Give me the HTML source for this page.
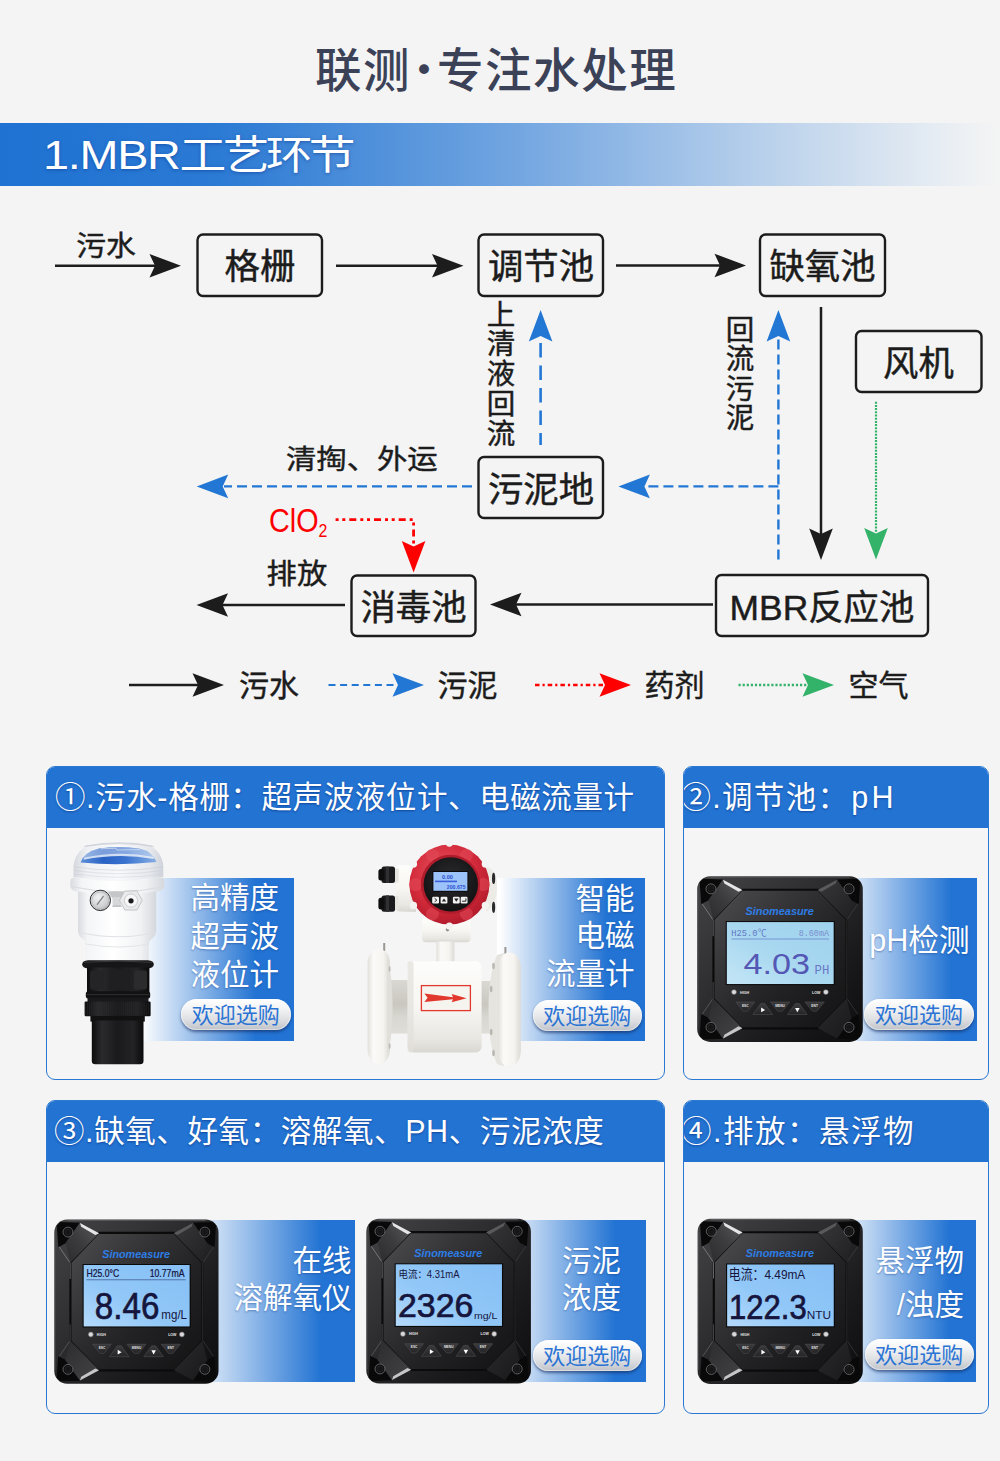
<!DOCTYPE html>
<html lang="zh-CN"><head><meta charset="utf-8"><title>联测·专注水处理</title>
<style>
html,body{margin:0;padding:0;background:#f4f4f4;}
body{width:1000px;height:1461px;position:relative;overflow:hidden;font-family:"Liberation Sans","Noto Sans CJK SC",sans-serif;}
.abs{position:absolute;white-space:nowrap;}
#title{left:315px;top:32px;height:70px;line-height:70px;font-size:46.5px;font-weight:500;color:#3b4157;letter-spacing:1.6px;}
#title i{font-style:normal;font-weight:400;font-family:'Noto Sans CJK SC',sans-serif;margin:0 -10.4px;letter-spacing:0;}
#banner{left:0;top:123px;width:1000px;height:63px;background:linear-gradient(90deg,#1f72d2 0%,#2b7ad4 22%,#6ea3e0 50%,#bdd3ec 78%,#eef1f4 97%,#f4f4f4 100%);}
#banner span{position:absolute;left:43px;top:0;line-height:64px;font-size:40px;color:#fff;letter-spacing:-3.2px;transform:scaleX(1.17);transform-origin:0 50%;text-shadow:0 1px 3px rgba(10,50,140,.55);}
#banner b{font-weight:400;letter-spacing:-1.1px;}
.card{position:absolute;box-sizing:border-box;border:1.5px solid #2b78d3;border-radius:9px;background:#f5f5f5;overflow:hidden;}
.card .hd{position:absolute;left:-2px;right:-2px;top:-2px;height:63px;background:#2273d2;}
.card .hd span{position:absolute;top:0;line-height:64px;color:#fff;font-size:30.5px;letter-spacing:0.6px;white-space:nowrap;text-shadow:0 1px 2px rgba(10,40,120,.6);}
.card .hd em{font-style:normal;margin-left:2px;letter-spacing:3.2px;}
.panel{position:absolute;}
.ptxt{position:absolute;color:#fff;font-size:29.5px;line-height:38px;text-align:right;white-space:nowrap;text-shadow:0 1px 2px rgba(20,60,140,.45);}
.btn{position:absolute;height:31px;width:109px;border-radius:16px;background:linear-gradient(180deg,#ffffff 0%,#f4f4f5 30%,#dcdee1 68%,#bfc2c8 100%);box-shadow:0 2px 3px rgba(20,40,90,.6),inset 0 0 0 1px rgba(255,255,255,.45);color:#2b74d4;font-size:22px;line-height:33px;text-align:center;white-space:nowrap;}
svg{position:absolute;left:0;top:0;overflow:visible;}
svg text{font-family:"Liberation Sans","Noto Sans CJK SC",sans-serif;}
</style></head><body>
<div id="title" class="abs">联测<i>·</i>专注水处理</div>
<div id="banner" class="abs"><span><b>1.MBR</b>工艺环节</span></div>
<svg width="1000" height="760" viewBox="0 0 1000 760">
<path d="M55.0 265.8 L158.0 265.8" fill="none" stroke="#1c1c1c" stroke-width="2.5"/>
<polygon points="181.0,265.8 149.5,254.0 155.0,265.8 149.5,277.6" fill="#1c1c1c"/>
<path d="M336.0 265.8 L441.0 265.8" fill="none" stroke="#1c1c1c" stroke-width="2.5"/>
<polygon points="463.5,265.8 432.0,254.0 437.5,265.8 432.0,277.6" fill="#1c1c1c"/>
<path d="M616.0 265.5 L724.0 265.5" fill="none" stroke="#1c1c1c" stroke-width="2.5"/>
<polygon points="746.0,265.5 714.5,253.7 720.0,265.5 714.5,277.3" fill="#1c1c1c"/>
<path d="M821.0 307.0 L821.0 535.0" fill="none" stroke="#1c1c1c" stroke-width="2.5"/>
<polygon points="821.0,560.0 809.2,528.5 821.0,534.0 832.8,528.5" fill="#1c1c1c"/>
<path d="M713.0 604.5 L515.0 604.5" fill="none" stroke="#1c1c1c" stroke-width="2.5"/>
<polygon points="490.0,604.5 521.5,592.7 516.0,604.5 521.5,616.3" fill="#1c1c1c"/>
<path d="M345.0 605.0 L221.0 605.0" fill="none" stroke="#1c1c1c" stroke-width="2.5"/>
<polygon points="196.5,605.0 228.0,593.2 222.5,605.0 228.0,616.8" fill="#1c1c1c"/>
<path d="M129.0 685.0 L199.0 685.0" fill="none" stroke="#1c1c1c" stroke-width="2.5"/>
<polygon points="224.0,685.0 192.5,673.2 198.0,685.0 192.5,696.8" fill="#1c1c1c"/>
<path d="M540.6 445.0 L540.6 338.0" fill="none" stroke="#2277d4" stroke-width="2.6" stroke-dasharray="14.5 8" stroke-dashoffset="2.5"/>
<polygon points="540.6,310.0 528.8,341.5 540.6,336.0 552.4,341.5" fill="#2277d4"/>
<path d="M778.4 559.5 L778.4 338.0" fill="none" stroke="#2277d4" stroke-width="2.4" stroke-dasharray="10 5"/>
<polygon points="778.4,310.0 766.6,341.5 778.4,336.0 790.2,341.5" fill="#2277d4"/>
<path d="M778.4 486.4 L645.0 486.4" fill="none" stroke="#2277d4" stroke-width="2.4" stroke-dasharray="10 5"/>
<polygon points="618.4,486.4 649.9,474.6 644.4,486.4 649.9,498.2" fill="#2277d4"/>
<path d="M472.0 486.4 L224.0 486.4" fill="none" stroke="#2277d4" stroke-width="2.4" stroke-dasharray="10 5"/>
<polygon points="196.7,486.4 228.2,474.6 222.7,486.4 228.2,498.2" fill="#2277d4"/>
<path d="M328.5 685.0 L399.0 685.0" fill="none" stroke="#2277d4" stroke-width="2.2" stroke-dasharray="7 4.6"/>
<polygon points="424.0,685.0 392.5,673.2 398.0,685.0 392.5,696.8" fill="#2277d4"/>
<path d="M335.6 519.6 L413.6 519.6 L413.6 546.0" fill="none" stroke="#fe0000" stroke-width="2.8" stroke-dasharray="3 3.7 3 4 7 4"/>
<polygon points="413.6,572.5 401.8,541.0 413.6,546.5 425.4,541.0" fill="#fe0000"/>
<path d="M535.0 685.0 L606.0 685.0" fill="none" stroke="#fe0000" stroke-width="2.4" stroke-dasharray="4.5 3 2.2 3"/>
<polygon points="631.0,685.0 599.5,673.2 605.0,685.0 599.5,696.8" fill="#fe0000"/>
<path d="M876.0 401.7 L876.0 532.0" fill="none" stroke="#33b26a" stroke-width="2.2" stroke-dasharray="2 1.2"/>
<polygon points="876.0,559.5 864.2,528.0 876.0,533.5 887.8,528.0" fill="#33b26a"/>
<path d="M738.5 685.0 L809.0 685.0" fill="none" stroke="#33b26a" stroke-width="2.6" stroke-dasharray="2.2 1.9"/>
<polygon points="834.0,685.0 802.5,673.2 808.0,685.0 802.5,696.8" fill="#33b26a"/>
<rect x="197.5" y="234.5" width="124.5" height="61.5" rx="5.5" ry="5.5" fill="none" stroke="#1c1c1c" stroke-width="2.4"/>
<rect x="478.5" y="234.5" width="124.5" height="61.5" rx="5.5" ry="5.5" fill="none" stroke="#1c1c1c" stroke-width="2.4"/>
<rect x="760.0" y="234.5" width="125.0" height="61.5" rx="5.5" ry="5.5" fill="none" stroke="#1c1c1c" stroke-width="2.4"/>
<rect x="856.0" y="331.0" width="125.5" height="61.0" rx="5.5" ry="5.5" fill="none" stroke="#1c1c1c" stroke-width="2.4"/>
<rect x="478.5" y="457.0" width="124.5" height="61.0" rx="5.5" ry="5.5" fill="none" stroke="#1c1c1c" stroke-width="2.4"/>
<rect x="351.5" y="575.5" width="124.0" height="60.5" rx="5.5" ry="5.5" fill="none" stroke="#1c1c1c" stroke-width="2.4"/>
<rect x="716.0" y="575.0" width="212.0" height="61.0" rx="5.5" ry="5.5" fill="none" stroke="#1c1c1c" stroke-width="2.4"/>
<text x="260.0" y="279.4" font-size="35.4" fill="#1c1c1c" stroke="#1c1c1c" stroke-width=".45" text-anchor="middle" >格栅</text>
<text x="541.0" y="279.4" font-size="35.4" fill="#1c1c1c" stroke="#1c1c1c" stroke-width=".45" text-anchor="middle" >调节池</text>
<text x="822.5" y="279.4" font-size="35.4" fill="#1c1c1c" stroke="#1c1c1c" stroke-width=".45" text-anchor="middle" >缺氧池</text>
<text x="918.5" y="375.7" font-size="35.4" fill="#1c1c1c" stroke="#1c1c1c" stroke-width=".45" text-anchor="middle" >风机</text>
<text x="541.0" y="501.7" font-size="35.4" fill="#1c1c1c" stroke="#1c1c1c" stroke-width=".45" text-anchor="middle" >污泥地</text>
<text x="413.5" y="620.2" font-size="35.4" fill="#1c1c1c" stroke="#1c1c1c" stroke-width=".45" text-anchor="middle" >消毒池</text>
<text x="822.0" y="619.7" font-size="35.4" fill="#1c1c1c" stroke="#1c1c1c" stroke-width=".45" text-anchor="middle" >MBR反应池</text>
<text transform="translate(106.0 255.5) scale(1.045 1)" font-size="28.5" fill="#1c1c1c" stroke="#1c1c1c" stroke-width=".45" text-anchor="middle" >污水</text>
<text transform="translate(361.8 468.6) scale(1.1 1)" font-size="27.6" fill="#1c1c1c" stroke="#1c1c1c" stroke-width=".45" text-anchor="middle" >清掏、外运</text>
<text transform="translate(296.9 584.4) scale(1.045 1)" font-size="29" fill="#1c1c1c" stroke="#1c1c1c" stroke-width=".45" text-anchor="middle" >排放</text>
<text transform="translate(269 531.6) scale(.885 1)" font-size="32.5" fill="#fe0000">ClO<tspan font-size="18" dy="5">2</tspan></text>
<text x="501.0" y="324.5" font-size="28.5" fill="#1c1c1c" stroke="#1c1c1c" stroke-width=".45" text-anchor="middle" >上</text>
<text x="501.0" y="354.3" font-size="28.5" fill="#1c1c1c" stroke="#1c1c1c" stroke-width=".45" text-anchor="middle" >清</text>
<text x="501.0" y="384.1" font-size="28.5" fill="#1c1c1c" stroke="#1c1c1c" stroke-width=".45" text-anchor="middle" >液</text>
<text x="501.0" y="413.9" font-size="28.5" fill="#1c1c1c" stroke="#1c1c1c" stroke-width=".45" text-anchor="middle" >回</text>
<text x="501.0" y="443.7" font-size="28.5" fill="#1c1c1c" stroke="#1c1c1c" stroke-width=".45" text-anchor="middle" >流</text>
<text x="740.0" y="340.0" font-size="28.5" fill="#1c1c1c" stroke="#1c1c1c" stroke-width=".45" text-anchor="middle" >回</text>
<text x="740.0" y="369.3" font-size="28.5" fill="#1c1c1c" stroke="#1c1c1c" stroke-width=".45" text-anchor="middle" >流</text>
<text x="740.0" y="398.6" font-size="28.5" fill="#1c1c1c" stroke="#1c1c1c" stroke-width=".45" text-anchor="middle" >污</text>
<text x="740.0" y="427.9" font-size="28.5" fill="#1c1c1c" stroke="#1c1c1c" stroke-width=".45" text-anchor="middle" >泥</text>
<text x="269.0" y="696.0" font-size="30" fill="#1c1c1c" stroke="#1c1c1c" stroke-width=".45" text-anchor="middle" >污水</text>
<text x="467.5" y="696.0" font-size="30" fill="#1c1c1c" stroke="#1c1c1c" stroke-width=".45" text-anchor="middle" >污泥</text>
<text x="674.5" y="696.0" font-size="30" fill="#1c1c1c" stroke="#1c1c1c" stroke-width=".45" text-anchor="middle" >药剂</text>
<text x="878.5" y="696.0" font-size="30" fill="#1c1c1c" stroke="#1c1c1c" stroke-width=".45" text-anchor="middle" >空气</text>
</svg>
<div class="card" style="left:46px;top:766px;width:619px;height:314px;"><div class="hd"><span style="left:10px;letter-spacing:0.6px">①.污水-格栅：超声波液位计、电磁流量计</span></div></div>
<div class="card" style="left:683px;top:766px;width:306px;height:314px;"><div class="hd"><span style="left:-1.5px;letter-spacing:1.3px">②.调节池：<em>pH</em></span></div></div>
<div class="card" style="left:46px;top:1100px;width:619px;height:314px;"><div class="hd"><span style="left:9px;letter-spacing:0.6px">③.缺氧、好氧：溶解氧、PH、污泥浓度</span></div></div>
<div class="card" style="left:683px;top:1100px;width:306px;height:314px;"><div class="hd"><span style="left:-1px;letter-spacing:1.5px">④.排放：悬浮物</span></div></div>
<div class="panel" style="left:138.0px;top:878.0px;width:156.3px;height:162.6px;background:linear-gradient(90deg,#ffffff 1.9%,#2273d3 75.5%);"></div>
<div class="panel" style="left:497.0px;top:878.0px;width:148.0px;height:162.6px;background:linear-gradient(90deg,#ffffff 1.4%,#2273d3 74.3%);"></div>
<div class="panel" style="left:800.0px;top:878.0px;width:177.3px;height:162.6px;background:linear-gradient(90deg,#ffffff 18.0%,#2273d3 85.7%);"></div>
<div class="panel" style="left:150.0px;top:1219.8px;width:205.0px;height:162.7px;background:linear-gradient(90deg,#ffffff 16.1%,#2273d3 83.4%);"></div>
<div class="panel" style="left:480.0px;top:1219.8px;width:165.7px;height:162.7px;background:linear-gradient(90deg,#ffffff 10.3%,#2273d3 81.5%);"></div>
<div class="panel" style="left:800.0px;top:1219.8px;width:176.2px;height:162.7px;background:linear-gradient(90deg,#ffffff 18.2%,#2273d3 85.1%);"></div>
<svg width="1000" height="1461" viewBox="0 0 1000 1461">
<defs>
<linearGradient id="gOut" x1="0" y1="0" x2="1" y2="1"><stop offset="0" stop-color="#444446"/><stop offset=".35" stop-color="#303032"/><stop offset=".7" stop-color="#1a1a1c"/><stop offset="1" stop-color="#0d0d0e"/></linearGradient>
<linearGradient id="gFace" x1="0" y1="0" x2="1" y2="1"><stop offset="0" stop-color="#4e4e50"/><stop offset=".3" stop-color="#363638"/><stop offset=".6" stop-color="#222224"/><stop offset="1" stop-color="#131314"/></linearGradient>
<linearGradient id="gEarA" x1="1" y1="0" x2="0" y2="1"><stop offset="0" stop-color="#5a5a5d"/><stop offset=".5" stop-color="#3c3c3f"/><stop offset="1" stop-color="#2c2c2e"/></linearGradient>
<linearGradient id="gEarB" x1="0" y1="0" x2="1" y2="1"><stop offset="0" stop-color="#38383b"/><stop offset="1" stop-color="#202022"/></linearGradient>
<linearGradient id="gEarC" x1="0" y1="0" x2="1" y2="1"><stop offset="0" stop-color="#2c2c2e"/><stop offset="1" stop-color="#444447"/></linearGradient>
<linearGradient id="gEarD" x1="0" y1="0" x2="1" y2="1"><stop offset="0" stop-color="#2a2a2c"/><stop offset="1" stop-color="#19191b"/></linearGradient>
<linearGradient id="gLcdA" x1="0" y1="1" x2="1" y2="0"><stop offset="0" stop-color="#c4e6f6"/><stop offset=".45" stop-color="#a9d8f0"/><stop offset="1" stop-color="#9fd2ee"/></linearGradient>
<linearGradient id="gLcdB" x1="0" y1="1" x2="1" y2="0"><stop offset="0" stop-color="#b4dafb"/><stop offset=".4" stop-color="#92c8f8"/><stop offset="1" stop-color="#86bff5"/></linearGradient>
<linearGradient id="gBtn" x1="0" y1="0" x2="0" y2="1"><stop offset="0" stop-color="#3a3a3d"/><stop offset="1" stop-color="#252527"/></linearGradient>
</defs>
<g transform="translate(697.20 876.30) scale(0.9976)">
<rect x="0" y="0" width="166" height="166" rx="13" ry="13" fill="url(#gOut)"/>
<path d="M13 .8 L153 .8" stroke="#6a6a6d" stroke-width=".9" opacity=".7"/>
<path d="M.8 14 L.8 152" stroke="#5a5a5d" stroke-width=".9" opacity=".6"/>
<polygon points="15.2,42.8 44.4,12.4 121.6,12.4 150.8,42.8 150.8,123.2 121.6,153.6 44.4,153.6 15.2,123.2" fill="#0b0b0c"/>
<polygon points="17.4,43.6 45.1,14.6 120.9,14.6 148.6,43.6 148.6,122.4 120.9,151.4 45.1,151.4 17.4,122.4" fill="url(#gFace)"/>
<polygon points="2.5,6.0 6.0,2.5 26.0,3.2 11.5,24.0 4.0,28.0" fill="#09090a"/>
<polygon points="163.5,6.0 160.0,2.5 140.0,3.2 154.5,24.0 162.0,28.0" fill="#09090a"/>
<polygon points="2.5,160.0 6.0,163.5 26.0,162.8 11.5,142.0 4.0,138.0" fill="#09090a"/>
<polygon points="163.5,160.0 160.0,163.5 140.0,162.8 154.5,142.0 162.0,138.0" fill="#09090a"/>
<polygon points="25.7,3.5 45.1,13.9 16.3,43.6 11.3,23.8" fill="url(#gEarA)"/>
<polygon points="140.3,3.5 120.9,13.9 149.7,43.6 154.7,23.8" fill="url(#gEarB)"/>
<polygon points="25.7,162.5 45.1,152.1 16.3,122.4 11.3,142.2" fill="url(#gEarC)"/>
<polygon points="140.3,162.5 120.9,152.1 149.7,122.4 154.7,142.2" fill="url(#gEarD)"/>
<polygon points="25.9,3.4 45.3,13.7 41.5,15.6 27.2,7.2" fill="#f2f2f3" opacity=".92"/>
<polygon points="25.9,162.6 45.3,152.3 41.5,150.4 27.2,158.8" fill="#dededf" opacity=".85"/>
<polygon points="140.1,3.4 120.7,13.7 124.5,15.6 138.8,7.2" fill="#8a8a8d" opacity=".45"/>
<path d="M5 27.6 L16 43.8 L16 60" fill="none" stroke="#8e8e91" stroke-width="1" opacity=".7"/>
<path d="M5 138.4 L16 122.2 L16 106" fill="none" stroke="#6e6e71" stroke-width="1" opacity=".6"/>
<path d="M161 27.6 L150 43.8 L150 122.2 L161 138.4" fill="none" stroke="#4a4a4d" stroke-width=".9" opacity=".6"/>
<circle cx="13.8" cy="12.6" r="5" fill="#0d0d0e" stroke="#6a6a6d" stroke-width=".9"/>
<circle cx="13.8" cy="12.6" r="3" fill="#151516" stroke="#2e2e31" stroke-width=".6"/>
<circle cx="152.2" cy="12.6" r="5" fill="#0d0d0e" stroke="#6a6a6d" stroke-width=".9"/>
<circle cx="152.2" cy="12.6" r="3" fill="#151516" stroke="#2e2e31" stroke-width=".6"/>
<circle cx="13.8" cy="151.4" r="5" fill="#0d0d0e" stroke="#6a6a6d" stroke-width=".9"/>
<circle cx="13.8" cy="151.4" r="3" fill="#151516" stroke="#2e2e31" stroke-width=".6"/>
<circle cx="152.2" cy="151.4" r="5" fill="#0d0d0e" stroke="#6a6a6d" stroke-width=".9"/>
<circle cx="152.2" cy="151.4" r="3" fill="#151516" stroke="#2e2e31" stroke-width=".6"/>
<text x="48.4" y="38.7" font-size="11" font-weight="700" font-style="italic" fill="#2d7de6" textLength="68.6" lengthAdjust="spacingAndGlyphs">Sinomeasure</text>
<rect x="28.6" y="44.9" width="109.4" height="64.2" fill="#0a0a0b"/>
<rect x="29.7" y="45.9" width="107.1" height="62.1" fill="url(#gLcdA)"/>
<text x="34.2" y="60.2" font-size="9.6" fill="#5f78c4" style="font-family:Liberation Mono,monospace" textLength="35.5" lengthAdjust="spacingAndGlyphs">H25.0℃</text>
<text x="101.8" y="60.2" font-size="9.6" fill="#7a8fce" style="font-family:Liberation Mono,monospace" textLength="30.3" lengthAdjust="spacingAndGlyphs">8.60mA</text>
<rect x="34.2" y="62.4" width="98" height=".9" fill="#6f8fd0"/>
<text x="46.4" y="98.2" font-size="29.8" fill="#5457b4" textLength="66.6" lengthAdjust="spacingAndGlyphs">4.03</text>
<text x="117.6" y="97.6" font-size="13.5" fill="#6a78c6" style="font-family:Liberation Mono,monospace" textLength="14.8" lengthAdjust="spacingAndGlyphs">PH</text>
<circle cx="36.9" cy="116.1" r="2.5" fill="#d9d9db" stroke="#6a6a6e" stroke-width=".6"/>
<circle cx="129" cy="116.1" r="2.5" fill="#d9d9db" stroke="#6a6a6e" stroke-width=".6"/>
<text x="43" y="117.6" font-size="3.6" font-weight="700" fill="#e6e6e6">HIGH</text>
<text x="123.5" y="117.6" font-size="3.6" font-weight="700" fill="#e6e6e6" text-anchor="end">LOW</text>
<polygon points="38.7,126 57.6,126 50.4,135.2 46.0,135.2" fill="url(#gBtn)" stroke="#4a4a4e" stroke-width=".7" stroke-linejoin="round"/>
<text x="48.2" y="130.6" font-size="3.3" font-weight="700" fill="#e0e0e0" text-anchor="middle">ESC</text>
<polygon points="73.4,126 92.7,126 85.3,135.2 80.9,135.2" fill="url(#gBtn)" stroke="#4a4a4e" stroke-width=".7" stroke-linejoin="round"/>
<text x="83.1" y="130.6" font-size="3.3" font-weight="700" fill="#e0e0e0" text-anchor="middle">MENU</text>
<polygon points="108.0,126 127.4,126 119.9,135.2 115.5,135.2" fill="url(#gBtn)" stroke="#4a4a4e" stroke-width=".7" stroke-linejoin="round"/>
<text x="117.7" y="130.6" font-size="3.3" font-weight="700" fill="#e0e0e0" text-anchor="middle">ENT</text>
<polygon points="63.7,127.6 67.7,127.6 75.5,138.6 55.9,138.6" fill="url(#gBtn)" stroke="#4a4a4e" stroke-width=".7" stroke-linejoin="round"/>
<polygon points="64.1,131.6 68.0,134 64.1,136.4" fill="#fff"/>
<polygon points="98.4,127.6 102.4,127.6 110.2,138.6 90.6,138.6" fill="url(#gBtn)" stroke="#4a4a4e" stroke-width=".7" stroke-linejoin="round"/>
<polygon points="98.1,132 102.7,132 100.4,136.3" fill="#fff"/>
</g>
<g transform="translate(54.30 1219.60) scale(0.9892)">
<rect x="0" y="0" width="166" height="166" rx="13" ry="13" fill="url(#gOut)"/>
<path d="M13 .8 L153 .8" stroke="#6a6a6d" stroke-width=".9" opacity=".7"/>
<path d="M.8 14 L.8 152" stroke="#5a5a5d" stroke-width=".9" opacity=".6"/>
<polygon points="15.2,42.8 44.4,12.4 121.6,12.4 150.8,42.8 150.8,123.2 121.6,153.6 44.4,153.6 15.2,123.2" fill="#0b0b0c"/>
<polygon points="17.4,43.6 45.1,14.6 120.9,14.6 148.6,43.6 148.6,122.4 120.9,151.4 45.1,151.4 17.4,122.4" fill="url(#gFace)"/>
<polygon points="2.5,6.0 6.0,2.5 26.0,3.2 11.5,24.0 4.0,28.0" fill="#09090a"/>
<polygon points="163.5,6.0 160.0,2.5 140.0,3.2 154.5,24.0 162.0,28.0" fill="#09090a"/>
<polygon points="2.5,160.0 6.0,163.5 26.0,162.8 11.5,142.0 4.0,138.0" fill="#09090a"/>
<polygon points="163.5,160.0 160.0,163.5 140.0,162.8 154.5,142.0 162.0,138.0" fill="#09090a"/>
<polygon points="25.7,3.5 45.1,13.9 16.3,43.6 11.3,23.8" fill="url(#gEarA)"/>
<polygon points="140.3,3.5 120.9,13.9 149.7,43.6 154.7,23.8" fill="url(#gEarB)"/>
<polygon points="25.7,162.5 45.1,152.1 16.3,122.4 11.3,142.2" fill="url(#gEarC)"/>
<polygon points="140.3,162.5 120.9,152.1 149.7,122.4 154.7,142.2" fill="url(#gEarD)"/>
<polygon points="25.9,3.4 45.3,13.7 41.5,15.6 27.2,7.2" fill="#f2f2f3" opacity=".92"/>
<polygon points="25.9,162.6 45.3,152.3 41.5,150.4 27.2,158.8" fill="#dededf" opacity=".85"/>
<polygon points="140.1,3.4 120.7,13.7 124.5,15.6 138.8,7.2" fill="#8a8a8d" opacity=".45"/>
<path d="M5 27.6 L16 43.8 L16 60" fill="none" stroke="#8e8e91" stroke-width="1" opacity=".7"/>
<path d="M5 138.4 L16 122.2 L16 106" fill="none" stroke="#6e6e71" stroke-width="1" opacity=".6"/>
<path d="M161 27.6 L150 43.8 L150 122.2 L161 138.4" fill="none" stroke="#4a4a4d" stroke-width=".9" opacity=".6"/>
<circle cx="13.8" cy="12.6" r="5" fill="#0d0d0e" stroke="#6a6a6d" stroke-width=".9"/>
<circle cx="13.8" cy="12.6" r="3" fill="#151516" stroke="#2e2e31" stroke-width=".6"/>
<circle cx="152.2" cy="12.6" r="5" fill="#0d0d0e" stroke="#6a6a6d" stroke-width=".9"/>
<circle cx="152.2" cy="12.6" r="3" fill="#151516" stroke="#2e2e31" stroke-width=".6"/>
<circle cx="13.8" cy="151.4" r="5" fill="#0d0d0e" stroke="#6a6a6d" stroke-width=".9"/>
<circle cx="13.8" cy="151.4" r="3" fill="#151516" stroke="#2e2e31" stroke-width=".6"/>
<circle cx="152.2" cy="151.4" r="5" fill="#0d0d0e" stroke="#6a6a6d" stroke-width=".9"/>
<circle cx="152.2" cy="151.4" r="3" fill="#151516" stroke="#2e2e31" stroke-width=".6"/>
<text x="48.4" y="38.7" font-size="11" font-weight="700" font-style="italic" fill="#2d7de6" textLength="68.6" lengthAdjust="spacingAndGlyphs">Sinomeasure</text>
<rect x="28.6" y="44.9" width="109.4" height="64.2" fill="#0a0a0b"/>
<rect x="29.7" y="45.9" width="107.1" height="62.1" fill="url(#gLcdB)"/>
<text x="32.6" y="58.4" font-size="10.8" fill="#15153d" stroke="#15153d" stroke-width=".25" textLength="33" lengthAdjust="spacingAndGlyphs">H25.0°C</text>
<text x="96.4" y="58.4" font-size="10.8" fill="#15153d" stroke="#15153d" stroke-width=".25" textLength="35.3" lengthAdjust="spacingAndGlyphs">10.77mA</text>
<rect x="32.4" y="60.4" width="100.4" height=".9" fill="#4a6a9c"/>
<text x="41" y="100.6" font-size="36.5" fill="#15153d" stroke="#15153d" stroke-width=".7" textLength="65.2" lengthAdjust="spacingAndGlyphs">8.46</text>
<text x="108.2" y="100.4" font-size="13.2" fill="#15153d" textLength="26" lengthAdjust="spacingAndGlyphs">mg/L</text>
<circle cx="36.9" cy="116.1" r="2.5" fill="#d9d9db" stroke="#6a6a6e" stroke-width=".6"/>
<circle cx="129" cy="116.1" r="2.5" fill="#d9d9db" stroke="#6a6a6e" stroke-width=".6"/>
<text x="43" y="117.6" font-size="3.6" font-weight="700" fill="#e6e6e6">HIGH</text>
<text x="123.5" y="117.6" font-size="3.6" font-weight="700" fill="#e6e6e6" text-anchor="end">LOW</text>
<polygon points="38.7,126 57.6,126 50.4,135.2 46.0,135.2" fill="url(#gBtn)" stroke="#4a4a4e" stroke-width=".7" stroke-linejoin="round"/>
<text x="48.2" y="130.6" font-size="3.3" font-weight="700" fill="#e0e0e0" text-anchor="middle">ESC</text>
<polygon points="73.4,126 92.7,126 85.3,135.2 80.9,135.2" fill="url(#gBtn)" stroke="#4a4a4e" stroke-width=".7" stroke-linejoin="round"/>
<text x="83.1" y="130.6" font-size="3.3" font-weight="700" fill="#e0e0e0" text-anchor="middle">MENU</text>
<polygon points="108.0,126 127.4,126 119.9,135.2 115.5,135.2" fill="url(#gBtn)" stroke="#4a4a4e" stroke-width=".7" stroke-linejoin="round"/>
<text x="117.7" y="130.6" font-size="3.3" font-weight="700" fill="#e0e0e0" text-anchor="middle">ENT</text>
<polygon points="63.7,127.6 67.7,127.6 75.5,138.6 55.9,138.6" fill="url(#gBtn)" stroke="#4a4a4e" stroke-width=".7" stroke-linejoin="round"/>
<polygon points="64.1,131.6 68.0,134 64.1,136.4" fill="#fff"/>
<polygon points="98.4,127.6 102.4,127.6 110.2,138.6 90.6,138.6" fill="url(#gBtn)" stroke="#4a4a4e" stroke-width=".7" stroke-linejoin="round"/>
<polygon points="98.1,132 102.7,132 100.4,136.3" fill="#fff"/>
</g>
<g transform="translate(366.30 1218.80) scale(0.9916)">
<rect x="0" y="0" width="166" height="166" rx="13" ry="13" fill="url(#gOut)"/>
<path d="M13 .8 L153 .8" stroke="#6a6a6d" stroke-width=".9" opacity=".7"/>
<path d="M.8 14 L.8 152" stroke="#5a5a5d" stroke-width=".9" opacity=".6"/>
<polygon points="15.2,42.8 44.4,12.4 121.6,12.4 150.8,42.8 150.8,123.2 121.6,153.6 44.4,153.6 15.2,123.2" fill="#0b0b0c"/>
<polygon points="17.4,43.6 45.1,14.6 120.9,14.6 148.6,43.6 148.6,122.4 120.9,151.4 45.1,151.4 17.4,122.4" fill="url(#gFace)"/>
<polygon points="2.5,6.0 6.0,2.5 26.0,3.2 11.5,24.0 4.0,28.0" fill="#09090a"/>
<polygon points="163.5,6.0 160.0,2.5 140.0,3.2 154.5,24.0 162.0,28.0" fill="#09090a"/>
<polygon points="2.5,160.0 6.0,163.5 26.0,162.8 11.5,142.0 4.0,138.0" fill="#09090a"/>
<polygon points="163.5,160.0 160.0,163.5 140.0,162.8 154.5,142.0 162.0,138.0" fill="#09090a"/>
<polygon points="25.7,3.5 45.1,13.9 16.3,43.6 11.3,23.8" fill="url(#gEarA)"/>
<polygon points="140.3,3.5 120.9,13.9 149.7,43.6 154.7,23.8" fill="url(#gEarB)"/>
<polygon points="25.7,162.5 45.1,152.1 16.3,122.4 11.3,142.2" fill="url(#gEarC)"/>
<polygon points="140.3,162.5 120.9,152.1 149.7,122.4 154.7,142.2" fill="url(#gEarD)"/>
<polygon points="25.9,3.4 45.3,13.7 41.5,15.6 27.2,7.2" fill="#f2f2f3" opacity=".92"/>
<polygon points="25.9,162.6 45.3,152.3 41.5,150.4 27.2,158.8" fill="#dededf" opacity=".85"/>
<polygon points="140.1,3.4 120.7,13.7 124.5,15.6 138.8,7.2" fill="#8a8a8d" opacity=".45"/>
<path d="M5 27.6 L16 43.8 L16 60" fill="none" stroke="#8e8e91" stroke-width="1" opacity=".7"/>
<path d="M5 138.4 L16 122.2 L16 106" fill="none" stroke="#6e6e71" stroke-width="1" opacity=".6"/>
<path d="M161 27.6 L150 43.8 L150 122.2 L161 138.4" fill="none" stroke="#4a4a4d" stroke-width=".9" opacity=".6"/>
<circle cx="13.8" cy="12.6" r="5" fill="#0d0d0e" stroke="#6a6a6d" stroke-width=".9"/>
<circle cx="13.8" cy="12.6" r="3" fill="#151516" stroke="#2e2e31" stroke-width=".6"/>
<circle cx="152.2" cy="12.6" r="5" fill="#0d0d0e" stroke="#6a6a6d" stroke-width=".9"/>
<circle cx="152.2" cy="12.6" r="3" fill="#151516" stroke="#2e2e31" stroke-width=".6"/>
<circle cx="13.8" cy="151.4" r="5" fill="#0d0d0e" stroke="#6a6a6d" stroke-width=".9"/>
<circle cx="13.8" cy="151.4" r="3" fill="#151516" stroke="#2e2e31" stroke-width=".6"/>
<circle cx="152.2" cy="151.4" r="5" fill="#0d0d0e" stroke="#6a6a6d" stroke-width=".9"/>
<circle cx="152.2" cy="151.4" r="3" fill="#151516" stroke="#2e2e31" stroke-width=".6"/>
<text x="48.4" y="38.7" font-size="11" font-weight="700" font-style="italic" fill="#2d7de6" textLength="68.6" lengthAdjust="spacingAndGlyphs">Sinomeasure</text>
<rect x="28.6" y="44.9" width="109.4" height="64.2" fill="#0a0a0b"/>
<rect x="29.7" y="45.9" width="107.1" height="62.1" fill="url(#gLcdB)"/>
<text x="32.4" y="59.6" font-size="10.6" fill="#15153d" textLength="61.6" lengthAdjust="spacingAndGlyphs">电流：4.31mA</text>
<text x="32" y="99.4" font-size="34" fill="#15153d" stroke="#15153d" stroke-width=".7" textLength="76" lengthAdjust="spacingAndGlyphs">2326</text>
<text x="108.6" y="101" font-size="9.8" fill="#15153d" textLength="23.6" lengthAdjust="spacingAndGlyphs">mg/L</text>
<circle cx="36.9" cy="116.1" r="2.5" fill="#d9d9db" stroke="#6a6a6e" stroke-width=".6"/>
<circle cx="129" cy="116.1" r="2.5" fill="#d9d9db" stroke="#6a6a6e" stroke-width=".6"/>
<text x="43" y="117.6" font-size="3.6" font-weight="700" fill="#e6e6e6">HIGH</text>
<text x="123.5" y="117.6" font-size="3.6" font-weight="700" fill="#e6e6e6" text-anchor="end">LOW</text>
<polygon points="38.7,126 57.6,126 50.4,135.2 46.0,135.2" fill="url(#gBtn)" stroke="#4a4a4e" stroke-width=".7" stroke-linejoin="round"/>
<text x="48.2" y="130.6" font-size="3.3" font-weight="700" fill="#e0e0e0" text-anchor="middle">ESC</text>
<polygon points="73.4,126 92.7,126 85.3,135.2 80.9,135.2" fill="url(#gBtn)" stroke="#4a4a4e" stroke-width=".7" stroke-linejoin="round"/>
<text x="83.1" y="130.6" font-size="3.3" font-weight="700" fill="#e0e0e0" text-anchor="middle">MENU</text>
<polygon points="108.0,126 127.4,126 119.9,135.2 115.5,135.2" fill="url(#gBtn)" stroke="#4a4a4e" stroke-width=".7" stroke-linejoin="round"/>
<text x="117.7" y="130.6" font-size="3.3" font-weight="700" fill="#e0e0e0" text-anchor="middle">ENT</text>
<polygon points="63.7,127.6 67.7,127.6 75.5,138.6 55.9,138.6" fill="url(#gBtn)" stroke="#4a4a4e" stroke-width=".7" stroke-linejoin="round"/>
<polygon points="64.1,131.6 68.0,134 64.1,136.4" fill="#fff"/>
<polygon points="98.4,127.6 102.4,127.6 110.2,138.6 90.6,138.6" fill="url(#gBtn)" stroke="#4a4a4e" stroke-width=".7" stroke-linejoin="round"/>
<polygon points="98.1,132 102.7,132 100.4,136.3" fill="#fff"/>
</g>
<g transform="translate(697.60 1218.80) scale(0.9952)">
<rect x="0" y="0" width="166" height="166" rx="13" ry="13" fill="url(#gOut)"/>
<path d="M13 .8 L153 .8" stroke="#6a6a6d" stroke-width=".9" opacity=".7"/>
<path d="M.8 14 L.8 152" stroke="#5a5a5d" stroke-width=".9" opacity=".6"/>
<polygon points="15.2,42.8 44.4,12.4 121.6,12.4 150.8,42.8 150.8,123.2 121.6,153.6 44.4,153.6 15.2,123.2" fill="#0b0b0c"/>
<polygon points="17.4,43.6 45.1,14.6 120.9,14.6 148.6,43.6 148.6,122.4 120.9,151.4 45.1,151.4 17.4,122.4" fill="url(#gFace)"/>
<polygon points="2.5,6.0 6.0,2.5 26.0,3.2 11.5,24.0 4.0,28.0" fill="#09090a"/>
<polygon points="163.5,6.0 160.0,2.5 140.0,3.2 154.5,24.0 162.0,28.0" fill="#09090a"/>
<polygon points="2.5,160.0 6.0,163.5 26.0,162.8 11.5,142.0 4.0,138.0" fill="#09090a"/>
<polygon points="163.5,160.0 160.0,163.5 140.0,162.8 154.5,142.0 162.0,138.0" fill="#09090a"/>
<polygon points="25.7,3.5 45.1,13.9 16.3,43.6 11.3,23.8" fill="url(#gEarA)"/>
<polygon points="140.3,3.5 120.9,13.9 149.7,43.6 154.7,23.8" fill="url(#gEarB)"/>
<polygon points="25.7,162.5 45.1,152.1 16.3,122.4 11.3,142.2" fill="url(#gEarC)"/>
<polygon points="140.3,162.5 120.9,152.1 149.7,122.4 154.7,142.2" fill="url(#gEarD)"/>
<polygon points="25.9,3.4 45.3,13.7 41.5,15.6 27.2,7.2" fill="#f2f2f3" opacity=".92"/>
<polygon points="25.9,162.6 45.3,152.3 41.5,150.4 27.2,158.8" fill="#dededf" opacity=".85"/>
<polygon points="140.1,3.4 120.7,13.7 124.5,15.6 138.8,7.2" fill="#8a8a8d" opacity=".45"/>
<path d="M5 27.6 L16 43.8 L16 60" fill="none" stroke="#8e8e91" stroke-width="1" opacity=".7"/>
<path d="M5 138.4 L16 122.2 L16 106" fill="none" stroke="#6e6e71" stroke-width="1" opacity=".6"/>
<path d="M161 27.6 L150 43.8 L150 122.2 L161 138.4" fill="none" stroke="#4a4a4d" stroke-width=".9" opacity=".6"/>
<circle cx="13.8" cy="12.6" r="5" fill="#0d0d0e" stroke="#6a6a6d" stroke-width=".9"/>
<circle cx="13.8" cy="12.6" r="3" fill="#151516" stroke="#2e2e31" stroke-width=".6"/>
<circle cx="152.2" cy="12.6" r="5" fill="#0d0d0e" stroke="#6a6a6d" stroke-width=".9"/>
<circle cx="152.2" cy="12.6" r="3" fill="#151516" stroke="#2e2e31" stroke-width=".6"/>
<circle cx="13.8" cy="151.4" r="5" fill="#0d0d0e" stroke="#6a6a6d" stroke-width=".9"/>
<circle cx="13.8" cy="151.4" r="3" fill="#151516" stroke="#2e2e31" stroke-width=".6"/>
<circle cx="152.2" cy="151.4" r="5" fill="#0d0d0e" stroke="#6a6a6d" stroke-width=".9"/>
<circle cx="152.2" cy="151.4" r="3" fill="#151516" stroke="#2e2e31" stroke-width=".6"/>
<text x="48.4" y="38.7" font-size="11" font-weight="700" font-style="italic" fill="#2d7de6" textLength="68.6" lengthAdjust="spacingAndGlyphs">Sinomeasure</text>
<rect x="28.6" y="44.9" width="109.4" height="64.2" fill="#0a0a0b"/>
<rect x="29.7" y="45.9" width="107.1" height="62.1" fill="url(#gLcdB)"/>
<text x="31.4" y="60.4" font-size="13.4" fill="#15153d" textLength="76.8" lengthAdjust="spacingAndGlyphs">电流：4.49mA</text>
<text x="31.6" y="100.4" font-size="34.5" fill="#15153d" stroke="#15153d" stroke-width=".7" textLength="78" lengthAdjust="spacingAndGlyphs">122.3</text>
<text x="109.6" y="100.6" font-size="11.8" fill="#15153d" textLength="24.4" lengthAdjust="spacingAndGlyphs">NTU</text>
<circle cx="36.9" cy="116.1" r="2.5" fill="#d9d9db" stroke="#6a6a6e" stroke-width=".6"/>
<circle cx="129" cy="116.1" r="2.5" fill="#d9d9db" stroke="#6a6a6e" stroke-width=".6"/>
<text x="43" y="117.6" font-size="3.6" font-weight="700" fill="#e6e6e6">HIGH</text>
<text x="123.5" y="117.6" font-size="3.6" font-weight="700" fill="#e6e6e6" text-anchor="end">LOW</text>
<polygon points="38.7,126 57.6,126 50.4,135.2 46.0,135.2" fill="url(#gBtn)" stroke="#4a4a4e" stroke-width=".7" stroke-linejoin="round"/>
<text x="48.2" y="130.6" font-size="3.3" font-weight="700" fill="#e0e0e0" text-anchor="middle">ESC</text>
<polygon points="73.4,126 92.7,126 85.3,135.2 80.9,135.2" fill="url(#gBtn)" stroke="#4a4a4e" stroke-width=".7" stroke-linejoin="round"/>
<text x="83.1" y="130.6" font-size="3.3" font-weight="700" fill="#e0e0e0" text-anchor="middle">MENU</text>
<polygon points="108.0,126 127.4,126 119.9,135.2 115.5,135.2" fill="url(#gBtn)" stroke="#4a4a4e" stroke-width=".7" stroke-linejoin="round"/>
<text x="117.7" y="130.6" font-size="3.3" font-weight="700" fill="#e0e0e0" text-anchor="middle">ENT</text>
<polygon points="63.7,127.6 67.7,127.6 75.5,138.6 55.9,138.6" fill="url(#gBtn)" stroke="#4a4a4e" stroke-width=".7" stroke-linejoin="round"/>
<polygon points="64.1,131.6 68.0,134 64.1,136.4" fill="#fff"/>
<polygon points="98.4,127.6 102.4,127.6 110.2,138.6 90.6,138.6" fill="url(#gBtn)" stroke="#4a4a4e" stroke-width=".7" stroke-linejoin="round"/>
<polygon points="98.1,132 102.7,132 100.4,136.3" fill="#fff"/>
</g>
<defs>
<linearGradient id="uBody" x1="0" y1="0" x2="1" y2="0"><stop offset="0" stop-color="#d9dbdf"/><stop offset=".12" stop-color="#f4f5f7"/><stop offset=".45" stop-color="#ffffff"/><stop offset=".8" stop-color="#f1f2f4"/><stop offset="1" stop-color="#d4d7dc"/></linearGradient>
<linearGradient id="uCap" x1="0" y1="0" x2="1" y2="0"><stop offset="0" stop-color="#d5d8de"/><stop offset=".15" stop-color="#eef0f3"/><stop offset=".5" stop-color="#f8f9fb"/><stop offset=".85" stop-color="#e6e8ec"/><stop offset="1" stop-color="#cfd3da"/></linearGradient>
<linearGradient id="uBlk" x1="0" y1="0" x2="1" y2="0"><stop offset="0" stop-color="#0c0c0d"/><stop offset=".2" stop-color="#2a2a2c"/><stop offset=".5" stop-color="#1a1a1c"/><stop offset=".8" stop-color="#232325"/><stop offset="1" stop-color="#0a0a0b"/></linearGradient>
<linearGradient id="uBlue" x1="0" y1="0" x2="1" y2="0"><stop offset="0" stop-color="#5d8fd8"/><stop offset=".3" stop-color="#2a62c4"/><stop offset=".6" stop-color="#3a73cf"/><stop offset="1" stop-color="#86aee4"/></linearGradient>
<radialGradient id="uScrew" cx=".4" cy=".35" r=".8"><stop offset="0" stop-color="#f2f2f3"/><stop offset=".7" stop-color="#c9cacc"/><stop offset="1" stop-color="#9a9b9e"/></radialGradient>
</defs>
<path d="M73.5 877 L73.5 866 Q74 858 80 851 Q88 842 119 841.5 Q150 842 157 851 Q163 858 163.3 866 L163.3 877 Q119 884 73.5 877Z" fill="url(#uCap)"/>
<path d="M80.5 862.5 Q84 852 99 848.4 Q119 846.2 139 848.4 Q153 851.5 156.5 862 Q119 866 80.5 862.5Z" fill="url(#uBlue)"/>
<path d="M83 858.5 Q86 851.5 99 848.6 Q119 846.4 139 848.6 Q151 851.5 154.5 858 Q119 850.5 83 858.5Z" fill="#ffffff" opacity=".38"/>
<path d="M84 857.8 Q119 850.2 153.5 857 L153.8 859 Q119 852.8 83.6 859.8Z" fill="#eaf0f9" opacity=".85"/>
<path d="M101 848.8 L116 848.2 L117 850 L140 849.6" fill="none" stroke="#d6e1f2" stroke-width=".8" opacity=".9"/>
<path d="M84 846.5 Q119 840.8 154 846.5" fill="none" stroke="#d3d6dc" stroke-width="1"/>
<path d="M74.5 867 Q119 873.5 162.5 867" fill="none" stroke="#c4c8cf" stroke-width=".9" opacity="0.55"/>
<path d="M74.5 870.5 Q119 877.0 162.5 870.5" fill="none" stroke="#c4c8cf" stroke-width=".9" opacity="0.45"/>
<path d="M74.5 874 Q119 880.5 162.5 874" fill="none" stroke="#c4c8cf" stroke-width=".9" opacity="0.4"/>
<path d="M86 846 Q119 839.5 152 846" fill="none" stroke="#c9cdd4" stroke-width=".8"/>
<path d="M70.3 881.5 Q70.3 878 74 877.6 Q119 884.5 161 877.6 Q164.4 878 164.4 881.5 L164.4 886 Q164 890.5 157 891.8 Q119 897.5 78 891.8 Q70.5 890.5 70.3 886Z" fill="url(#uBody)"/>
<path d="M71 886.5 Q119 897 164 886.5" fill="none" stroke="#d9dce1" stroke-width="1"/>
<path d="M78 891.5 Q119 897.5 156.2 891.5 L156.2 931 Q156 936 151 939.5 Q149 941.5 148.8 945 L148.8 962 L85.8 962 L85.8 945 Q85.6 941.5 83.5 939.5 Q78.2 936 78 931Z" fill="url(#uBody)"/>
<path d="M79 932.5 Q119 941 155.5 932.5" fill="none" stroke="#dfe1e5" stroke-width="1.2"/>
<path d="M85.5 944 Q119 950 149 944" fill="none" stroke="#e3e5e8" stroke-width="1"/>
<path d="M108 892 Q117 890.5 124 892 L122 899 Q117 901.5 122 907 L112 907 Q116 900 111.5 897Z" fill="#c5c6c8"/>
<rect x="112.5" y="897" width="8" height="8" fill="#d6d7d9"/>
<circle cx="100.3" cy="900.4" r="10.2" fill="url(#uScrew)" stroke="#2c2c2e" stroke-width="1"/>
<circle cx="100.3" cy="900.4" r="8.4" fill="none" stroke="#b4b5b8" stroke-width=".7"/>
<path d="M97.3 904.4 L103.3 896.4" stroke="#7d7e82" stroke-width="1.2" stroke-linecap="round"/>
<polygon points="119.5,900.4 124.5,891.2 136.8,890.8 142.3,900.4 137,910 124.8,910" fill="#e9eaec" stroke="#b9babd" stroke-width=".8" stroke-linejoin="round"/>
<circle cx="131" cy="900.6" r="6.6" fill="#f7f7f8" stroke="#c4c5c8" stroke-width=".8"/>
<circle cx="131" cy="900.8" r="2.6" fill="#1a1a1c"/>
<path d="M82.2 964.5 Q82.2 960.5 88 960.2 L148 960.2 Q153.8 960.5 153.8 964.5 Q153.6 968 148 968.4 L88 968.4 Q82.4 968 82.2 964.5Z" fill="#161618"/>
<path d="M84 962.3 Q118 959.8 152 962.3" fill="none" stroke="#3c3c3f" stroke-width=".9"/>
<rect x="87" y="967.5" width="62.4" height="24.5" fill="url(#uBlk)"/>
<rect x="90" y="970.5" width="14" height="19" rx="2" fill="#242426"/>
<rect x="109" y="970" width="21" height="20" rx="2" fill="#1f1f21"/>
<rect x="134" y="970.5" width="13" height="19" rx="2" fill="#2b2b2d"/>
<rect x="85.8" y="991.2" width="64.4" height="7.2" rx="2.5" fill="#121213"/>
<path d="M86.5 994.6 L149.6 994.6" stroke="#343437" stroke-width=".8"/>
<rect x="87.5" y="997.6" width="61" height="5" fill="#19191b"/>
<rect x="84.6" y="1001.6" width="66" height="14.6" rx="1.2" fill="url(#uBlk)"/>
<path d="M85 1008.9 L150.2 1008.9" stroke="#2d2d30" stroke-width="12.6" stroke-dasharray="0.8 1.3" opacity=".55"/>
<rect x="90.4" y="1016" width="54.4" height="5.6" fill="#111112"/>
<path d="M91.8 1020.5 L143.5 1020.5 L143.5 1061 Q143.5 1064.2 140 1064.2 L95.3 1064.2 Q91.8 1064.2 91.8 1061Z" fill="url(#uBlk)"/>
<defs>
<linearGradient id="fW" x1="0" y1="0" x2="0" y2="1"><stop offset="0" stop-color="#fdfdfb"/><stop offset=".5" stop-color="#f7f6f2"/><stop offset=".85" stop-color="#e9e7e2"/><stop offset="1" stop-color="#d9d7d1"/></linearGradient>
<linearGradient id="fWh" x1="0" y1="0" x2="1" y2="0"><stop offset="0" stop-color="#e2e0da"/><stop offset=".25" stop-color="#fbfaf8"/><stop offset=".7" stop-color="#f5f4f0"/><stop offset="1" stop-color="#dcdad4"/></linearGradient>
<linearGradient id="fPipe" x1="0" y1="0" x2="0" y2="1"><stop offset="0" stop-color="#dad8d2"/><stop offset=".45" stop-color="#c9c7c0"/><stop offset=".7" stop-color="#d9d7d1"/><stop offset="1" stop-color="#e0ded8"/></linearGradient>
<radialGradient id="fRed" cx=".42" cy=".35" r=".75"><stop offset="0" stop-color="#e8505c"/><stop offset=".55" stop-color="#d22a3a"/><stop offset="1" stop-color="#a81626"/></radialGradient>
<radialGradient id="fBlk" cx=".5" cy=".4" r=".7"><stop offset="0" stop-color="#2c2c2f"/><stop offset="1" stop-color="#0d0d0e"/></radialGradient>
</defs>
<path d="M396 868 Q396 864.6 400 864.8 L416 866 L416 912 L400 911.6 Q396 911.5 396 908Z" fill="url(#fW)"/>
<rect x="394.6" y="868.5" width="4" height="14" fill="#e6e4df"/><rect x="394.6" y="896" width="4" height="14" fill="#e6e4df"/>
<rect x="381.5" y="866.6" width="13.5" height="16.4" rx="2.5" fill="#1b1b1d"/>
<rect x="378.4" y="869.0" width="6" height="11.6" rx="2.5" fill="#0e0e0f"/>
<rect x="386" y="866.6" width="3" height="16.4" fill="#303033"/>
<rect x="381.5" y="895.4" width="13.5" height="16.4" rx="2.5" fill="#1b1b1d"/>
<rect x="378.4" y="897.8" width="6" height="11.6" rx="2.5" fill="#0e0e0f"/>
<rect x="386" y="895.4" width="3" height="16.4" fill="#303033"/>
<path d="M486 866 Q497 870 497 886 Q497 905 486 912Z" fill="#ecebe6"/>
<ellipse cx="493.6" cy="878.4" rx="1.6" ry="5.6" fill="#2a2a2c"/><ellipse cx="493.6" cy="907.3" rx="1.6" ry="5.6" fill="#2a2a2c"/>
<path d="M422 918 L470.6 918 L470.6 938 Q470.6 942.2 466 942.2 L426.5 942.2 Q422 942.2 422 938Z" fill="url(#fW)"/>
<rect x="436.4" y="941.5" width="18" height="22" fill="url(#fWh)"/>
<circle cx="447.6" cy="929.6" r="1.8" fill="#8d8b86"/>
<circle cx="449.4" cy="884.6" r="40" fill="url(#fRed)"/>
<circle cx="485.3" cy="905.4" r="3.6" fill="#f4f3ef"/>
<circle cx="449.4" cy="926.1" r="3.6" fill="#f4f3ef"/>
<circle cx="413.5" cy="905.4" r="3.6" fill="#f4f3ef"/>
<circle cx="413.5" cy="863.9" r="3.6" fill="#f4f4f4"/>
<circle cx="449.4" cy="843.1" r="3.6" fill="#f4f4f4"/>
<circle cx="485.3" cy="863.9" r="3.6" fill="#f4f4f4"/>
<circle cx="483.4" cy="884.6" r="6.5" fill="#e14857" opacity=".55"/>
<circle cx="466.4" cy="914.0" r="6.5" fill="#e14857" opacity=".55"/>
<circle cx="432.4" cy="914.0" r="6.5" fill="#e14857" opacity=".55"/>
<circle cx="415.4" cy="884.6" r="6.5" fill="#e14857" opacity=".55"/>
<circle cx="432.4" cy="855.2" r="6.5" fill="#e14857" opacity=".55"/>
<circle cx="466.4" cy="855.2" r="6.5" fill="#e14857" opacity=".55"/>
<circle cx="450.4" cy="884.4" r="29.6" fill="#b01c2c"/>
<circle cx="450.8" cy="884.4" r="27.2" fill="url(#fBlk)"/>
<rect x="432.4" y="871" width="36" height="20.8" rx="1" fill="#0a0a0c"/>
<rect x="433.4" y="872" width="34" height="18.8" fill="#9dc3fb"/>
<text x="442" y="878.6" font-size="5.6" font-weight="700" fill="#2a4fd0">0.00</text>
<rect x="435" y="880.6" width="22" height="1.6" fill="#3a5fd8"/>
<text x="465.6" y="889" font-size="5.2" font-weight="700" fill="#2a4fd0" text-anchor="end">200.675</text>
<rect x="432.2" y="896.7" width="6.8" height="6.8" rx="1.2" fill="#f2f2f2"/>
<path d="M434.6 898.3 L436.8 900.1 L434.6 901.9" fill="none" stroke="#222" stroke-width="1"/>
<rect x="440.6" y="896.7" width="6.8" height="6.8" rx="1.2" fill="#f2f2f2"/>
<polygon points="441.8,901.6 444.0,898.4 446.2,901.6" fill="#222"/>
<rect x="452.9" y="896.7" width="6.8" height="6.8" rx="1.2" fill="#f2f2f2"/>
<polygon points="454.1,898.6 456.3,901.8 458.5,898.6" fill="#222"/>
<rect x="460.7" y="896.7" width="6.8" height="6.8" rx="1.2" fill="#f2f2f2"/>
<path d="M465.9 898.4 L465.9 901.2 L462.1 901.2" fill="none" stroke="#222" stroke-width="1"/>
<rect x="383.2" y="943" width="2" height="8" fill="#9a9893"/><rect x="504.4" y="947" width="2" height="8" fill="#9a9893"/>
<rect x="386" y="980" width="24" height="53.6" fill="url(#fPipe)"/>
<rect x="479" y="981" width="18" height="52.6" fill="url(#fPipe)"/>
<rect x="367.6" y="949.5" width="22.4" height="114" rx="10" ry="14" fill="url(#fWh)"/>
<path d="M387 958 Q392.5 975 392.5 1006 Q392.5 1040 387 1056Z" fill="#e1dfd9"/>
<ellipse cx="389.6" cy="969" rx="1" ry="3" fill="#bdbbb5"/>
<ellipse cx="389.6" cy="1046" rx="1" ry="3" fill="#bdbbb5"/>
<path d="M497 955 Q488.5 975 488.5 1009 Q488.5 1045 497 1064 L504 1066 L504 953Z" fill="#e6e4de"/>
<ellipse cx="493.5" cy="966" rx="1.3" ry="3.2" fill="#b9b7b1"/>
<ellipse cx="491.2" cy="989" rx="1.3" ry="3.2" fill="#b9b7b1"/>
<ellipse cx="491.2" cy="1032" rx="1.3" ry="3.2" fill="#b9b7b1"/>
<ellipse cx="493.5" cy="1053" rx="1.3" ry="3.2" fill="#b9b7b1"/>
<rect x="498" y="952.8" width="22.8" height="113.4" rx="10" ry="16" fill="url(#fWh)"/>
<rect x="407.6" y="961.2" width="74" height="91.2" rx="6" ry="6" fill="url(#fW)"/>
<rect x="407.6" y="961.2" width="6" height="91.2" rx="3" fill="#e2e0da" opacity=".7"/>
<rect x="421.4" y="985.6" width="49" height="25" fill="#f6f4ef" stroke="#e2392f" stroke-width="1.3"/>
<path d="M424.4 993.6 L453 997.2 L451.6 994 L466.6 998.2 L451.6 1002.2 L453 999.2 L424.4 1002 L427.6 997.8Z" fill="#e2392f"/>
</svg>
<div class="ptxt" style="right:721.0px;top:879.3px;line-height:38.6px;font-size:29.5px;">高精度<br>超声波<br>液位计</div>
<div class="btn" style="left:181.0px;top:999.3px;width:109.5px;height:31.0px;">欢迎选购</div>
<div class="ptxt" style="right:365.5px;top:879.5px;line-height:37.5px;font-size:29.5px;">智能<br>电磁<br>流量计</div>
<div class="btn" style="left:532.6px;top:999.6px;width:109.5px;height:31.0px;">欢迎选购</div>
<div class="ptxt" style="right:30.5px;top:921.2px;line-height:38px;font-size:30.6px;">pH检测</div>
<div class="btn" style="left:864.3px;top:999.3px;width:109.5px;height:31.0px;">欢迎选购</div>
<div class="ptxt" style="right:648.5px;top:1241.5px;line-height:37px;font-size:29.5px;">在线<br>溶解氧仪</div>
<div class="ptxt" style="right:379.0px;top:1241.5px;line-height:37px;font-size:29.5px;">污泥<br>浓度</div>
<div class="btn" style="left:532.6px;top:1339.6px;width:109.5px;height:31.0px;">欢迎选购</div>
<div class="ptxt" style="right:36.0px;top:1239.0px;line-height:43.5px;font-size:29.5px;">悬浮物<br>/浊度</div>
<div class="btn" style="left:864.6px;top:1339.3px;width:109.5px;height:31.0px;">欢迎选购</div>
</body></html>
